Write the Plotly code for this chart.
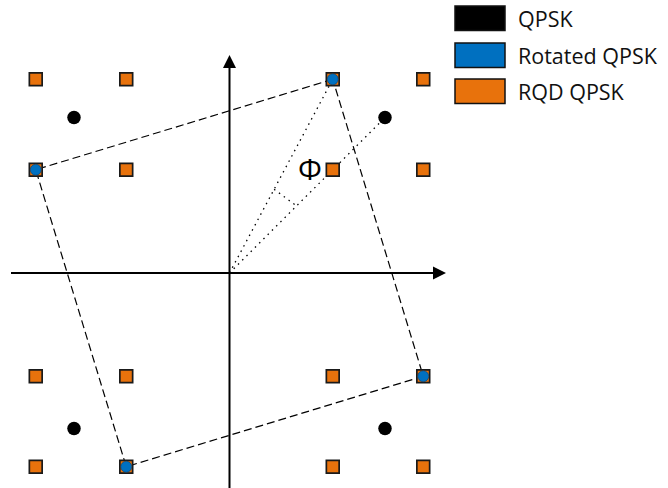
import numpy as np
import plotly.graph_objects as go

# Constellation points (I, Q), in units of the QPSK amplitude
qpsk_i = [1.0, -1.0, -1.0, 1.0]
qpsk_q = [1.0, 1.0, -1.0, -1.0]

rot_i = [0.664, -1.246, -0.664, 1.246]
rot_q = [1.246, 0.664, -1.246, -0.664]

# RQD QPSK grid levels (per axis)
rqd_levels = [-1.246, -0.664, 0.664, 1.246]

legend_labels = ["QPSK", "Rotated QPSK", "RQD QPSK"]

BLACK = "#000000"
BLUE = "#0070C0"
ORANGE = "#E8720C"
FONT = "Open Sans"

W, H = 668, 488
UNIT = 155.5           # pixels per unit
OX, OY = 229.5, 273.0  # origin position in pixels

x_range = [-OX / UNIT, (W - OX) / UNIT]
y_range = [(OY - H) / UNIT, OY / UNIT]

rqd_i = [x for x in rqd_levels for _ in rqd_levels]
rqd_q = [y for _ in rqd_levels for y in rqd_levels]

fig = go.Figure()

# Dashed square joining the rotated constellation points
fig.add_trace(go.Scatter(
    x=rot_i + rot_i[:1], y=rot_q + rot_q[:1], mode="lines",
    line=dict(color=BLACK, width=1.2, dash="8px,4px"), hoverinfo="skip"))

# Dotted rays from the origin to the first QPSK and rotated points
for px, py in [(rot_i[0], rot_q[0]), (qpsk_i[0], qpsk_q[0])]:
    fig.add_trace(go.Scatter(
        x=[0, px], y=[0, py], mode="lines",
        line=dict(color=BLACK, width=1.3, dash="1.5px,4.5px"), hoverinfo="skip"))

# Dotted chord marking the rotation angle
r_chord = 0.61
a_rot = np.arctan2(rot_q[0], rot_i[0])
a_qpsk = np.arctan2(qpsk_q[0], qpsk_i[0])
fig.add_trace(go.Scatter(
    x=[r_chord * np.cos(a_rot), r_chord * np.cos(a_qpsk)],
    y=[r_chord * np.sin(a_rot), r_chord * np.sin(a_qpsk)],
    mode="lines", line=dict(color=BLACK, width=1.3, dash="1.5px,4.5px"),
    hoverinfo="skip"))

# RQD QPSK squares
fig.add_trace(go.Scatter(
    x=rqd_i, y=rqd_q, mode="markers", name=legend_labels[2],
    marker=dict(symbol="square", size=12.8, color=ORANGE,
                line=dict(color="#1a1a1a", width=1.7))))

# QPSK dots
fig.add_trace(go.Scatter(
    x=qpsk_i, y=qpsk_q, mode="markers", name=legend_labels[0],
    marker=dict(symbol="circle", size=13.5, color=BLACK, line=dict(width=0))))

# Rotated QPSK dots
fig.add_trace(go.Scatter(
    x=rot_i, y=rot_q, mode="markers", name=legend_labels[1],
    marker=dict(symbol="circle", size=11, color=BLUE,
                line=dict(color="#0b3d66", width=0.6))))

shapes = []
# I and Q axes with arrow heads
ah = 13 / UNIT
hw = 6.5 / UNIT
x_tip, x_start = (446 - OX) / UNIT, (11 - OX) / UNIT
y_tip, y_start = (OY - 55) / UNIT, (OY - 490) / UNIT
shapes.append(dict(type="line", xref="x", yref="y", x0=x_start, y0=0,
                   x1=x_tip - ah + 0.01, y1=0, line=dict(color=BLACK, width=2),
                   layer="below"))
shapes.append(dict(type="path", xref="x", yref="y",
                   path=f"M {x_tip} 0 L {x_tip - ah} {hw} L {x_tip - ah} {-hw} Z",
                   fillcolor=BLACK, line=dict(width=0), layer="below"))
shapes.append(dict(type="line", xref="x", yref="y", x0=0, y0=y_start,
                   x1=0, y1=y_tip - ah + 0.01, line=dict(color=BLACK, width=2),
                   layer="below"))
shapes.append(dict(type="path", xref="x", yref="y",
                   path=f"M 0 {y_tip} L {hw} {y_tip - ah} L {-hw} {y_tip - ah} Z",
                   fillcolor=BLACK, line=dict(width=0), layer="below"))

# Legend swatches and labels (pixel layout converted to paper coordinates)
annotations = []
swatch_colors = [BLACK, BLUE, ORANGE]
swatch_tops = [6, 43, 79]
for color, top, label in zip(swatch_colors, swatch_tops, legend_labels):
    shapes.append(dict(type="rect", xref="paper", yref="paper",
                       x0=455 / W, x1=505 / W, y0=1 - (top + 24.5) / H, y1=1 - top / H,
                       fillcolor=color, line=dict(color="#111111", width=1.5)))
    annotations.append(dict(xref="paper", yref="paper", x=516 / W,
                            y=1 - (top + 12.5) / H, text=label, showarrow=False,
                            xanchor="left", yanchor="middle",
                            font=dict(family=FONT, size=21.5, color="#111111")))

# Rotation angle label
annotations.append(dict(xref="x", yref="y", x=0.518, y=0.669, text="Φ",
                        showarrow=False, xanchor="center", yanchor="middle",
                        font=dict(family=FONT, size=30, color=BLACK)))

fig.update_layout(
    width=W, height=H, margin=dict(l=0, r=0, t=0, b=0),
    paper_bgcolor="white", plot_bgcolor="white", showlegend=False,
    shapes=shapes, annotations=annotations,
    xaxis=dict(range=x_range, visible=False, fixedrange=True),
    yaxis=dict(range=y_range, visible=False, fixedrange=True),
)

fig.write_html("out.html")
